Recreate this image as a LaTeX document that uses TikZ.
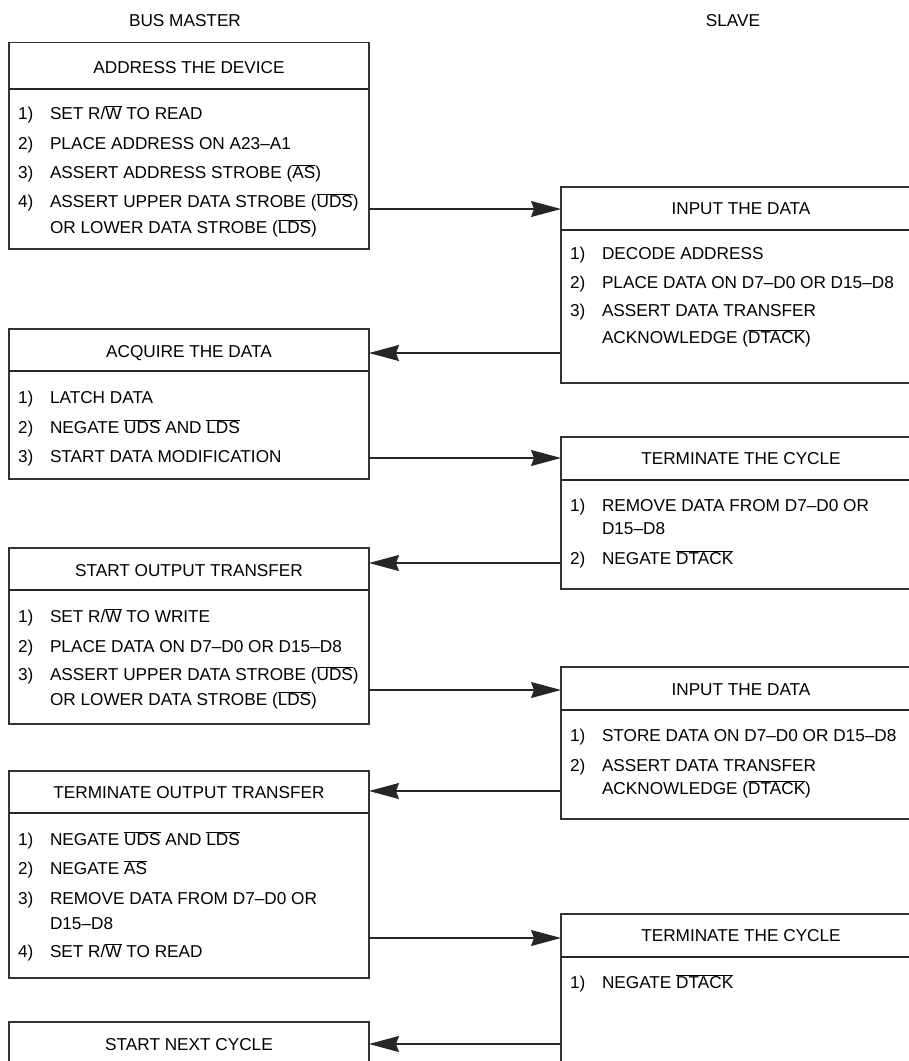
\documentclass[tikz,border=0pt]{standalone}
\usepackage{fontspec}
\setmainfont{Liberation Sans}
\usetikzlibrary{arrows.meta}
% active-low signal name with a bar over it
\newcommand\ovl[1]{$\overline{\mbox{#1}}$}

\begin{document}
\begin{tikzpicture}[x=1pt,y=-1pt,
  every node/.style={font=\fontsize{17.2}{20}\selectfont, text=black,
    inner sep=0pt, outer sep=0pt, text height=12.4pt, text depth=0pt},
  boxsty/.style={draw=black!80, line width=1.1pt, minimum width=360pt},
  divsty/.style={draw=black!85, line width=1.8pt},
  hdr/.style={anchor=center},
  itm/.style={anchor=west},
  arr/.style={draw=black!85, line width=1.1pt,
    -{Stealth[length=30pt,width=16pt,inset=3pt]}}]

\useasboundingbox (0,0) rectangle (909,1061);
\clip (0,0) rectangle (909,1061);
\fill[white] (0,0) rectangle (909,1061);

% column titles
\node[hdr] (colm) at (185,20) {BUS MASTER};
\node[hdr] (cols) at (733,20) {SLAVE};

% ---------- bus master: address the device
\node[boxsty, minimum height=206.5pt] (L1) at (189,145.75) {};
\draw[divsty] (L1.west |- 0,89) -- (L1.east |- 0,89);
\node[hdr] (L1h) at (189,67.5) {ADDRESS THE DEVICE};
\node[itm] (L1n1) at (18,113) {1)};
\node[itm] (L1t1) at (50,113) {SET R/\ovl{W} TO READ};
\node[itm] (L1n2) at (18,143) {2)};
\node[itm] (L1t2) at (50,143) {PLACE ADDRESS ON A23–A1};
\node[itm] (L1n3) at (18,172) {3)};
\node[itm] (L1t3) at (50,172) {ASSERT ADDRESS STROBE (\ovl{AS})};
\node[itm] (L1n4) at (18,201) {4)};
\node[itm] (L1t4) at (50,201) {ASSERT UPPER DATA STROBE (\ovl{UDS})};
\node[itm] (L1t5) at (50,227) {OR LOWER DATA STROBE (\ovl{LDS})};

% ---------- slave: input the data
\node[boxsty, minimum height=196pt] (R1) at (741,285) {};
\draw[divsty] (R1.west |- 0,230) -- (R1.east |- 0,230);
\node[hdr] (R1h) at (741,208) {INPUT THE DATA};
\node[itm] (R1n1) at (570,253) {1)};
\node[itm] (R1t1) at (602,253) {DECODE ADDRESS};
\node[itm] (R1n2) at (570,282) {2)};
\node[itm] (R1t2) at (602,282) {PLACE DATA ON D7–D0 OR D15–D8};
\node[itm] (R1n3) at (570,310) {3)};
\node[itm] (R1t3) at (602,310) {ASSERT DATA TRANSFER};
\node[itm] (R1t4) at (602,337) {ACKNOWLEDGE (\ovl{DTACK})};

% ---------- bus master: acquire the data
\node[boxsty, minimum height=150pt] (L2) at (189,404) {};
\draw[divsty] (L2.west |- 0,371) -- (L2.east |- 0,371);
\node[hdr] (L2h) at (189,351) {ACQUIRE THE DATA};
\node[itm] (L2n1) at (18,397) {1)};
\node[itm] (L2t1) at (50,397) {LATCH DATA};
\node[itm] (L2n2) at (18,427) {2)};
\node[itm] (L2t2) at (50,427) {NEGATE \ovl{UDS} AND \ovl{LDS}};
\node[itm] (L2n3) at (18,456) {3)};
\node[itm] (L2t3) at (50,456) {START DATA MODIFICATION};

% ---------- slave: terminate the cycle
\node[boxsty, minimum height=152pt] (R2) at (741,513) {};
\draw[divsty] (R2.west |- 0,480) -- (R2.east |- 0,480);
\node[hdr] (R2h) at (741,458) {TERMINATE THE CYCLE};
\node[itm] (R2n1) at (570,505) {1)};
\node[itm] (R2t1) at (602,505) {REMOVE DATA FROM D7–D0 OR};
\node[itm] (R2t2) at (602,528) {D15–D8};
\node[itm] (R2n3) at (570,558) {2)};
\node[itm] (R2t3) at (602,558) {NEGATE \ovl{DTACK}};

% ---------- bus master: start output transfer
\node[boxsty, minimum height=176pt] (L3) at (189,636) {};
\draw[divsty] (L3.west |- 0,590) -- (L3.east |- 0,590);
\node[hdr] (L3h) at (189,570) {START OUTPUT TRANSFER};
\node[itm] (L3n1) at (18,616) {1)};
\node[itm] (L3t1) at (50,616) {SET R/\ovl{W} TO WRITE};
\node[itm] (L3n2) at (18,646) {2)};
\node[itm] (L3t2) at (50,646) {PLACE DATA ON D7–D0 OR D15–D8};
\node[itm] (L3n3) at (18,674) {3)};
\node[itm] (L3t3) at (50,674) {ASSERT UPPER DATA STROBE (\ovl{UDS})};
\node[itm] (L3t4) at (50,699) {OR LOWER DATA STROBE (\ovl{LDS})};

% ---------- slave: input the data
\node[boxsty, minimum height=152pt] (R3) at (741,743) {};
\draw[divsty] (R3.west |- 0,710) -- (R3.east |- 0,710);
\node[hdr] (R3h) at (741,689) {INPUT THE DATA};
\node[itm] (R3n1) at (570,735) {1)};
\node[itm] (R3t1) at (602,735) {STORE DATA ON D7–D0 OR D15–D8};
\node[itm] (R3n2) at (570,765) {2)};
\node[itm] (R3t2) at (602,765) {ASSERT DATA TRANSFER};
\node[itm] (R3t3) at (602,788) {ACKNOWLEDGE (\ovl{DTACK})};

% ---------- bus master: terminate output transfer
\node[boxsty, minimum height=207pt] (L4) at (189,874.5) {};
\draw[divsty] (L4.west |- 0,813) -- (L4.east |- 0,813);
\node[hdr] (L4h) at (189,792) {TERMINATE OUTPUT TRANSFER};
\node[itm] (L4n1) at (18,839) {1)};
\node[itm] (L4t1) at (50,839) {NEGATE \ovl{UDS} AND \ovl{LDS}};
\node[itm] (L4n2) at (18,868) {2)};
\node[itm] (L4t2) at (50,868) {NEGATE \ovl{AS}};
\node[itm] (L4n3) at (18,898) {3)};
\node[itm] (L4t3) at (50,898) {REMOVE DATA FROM D7–D0 OR};
\node[itm] (L4t4) at (50,923) {D15–D8};
\node[itm] (L4n5) at (18,951) {4)};
\node[itm] (L4t5) at (50,951) {SET R/\ovl{W} TO READ};

% ---------- slave: terminate the cycle
\node[boxsty, minimum height=186pt] (R4) at (741,1007) {};
\draw[divsty] (R4.west |- 0,957) -- (R4.east |- 0,957);
\node[hdr] (R4h) at (741,935) {TERMINATE THE CYCLE};
\node[itm] (R4n1) at (570,982) {1)};
\node[itm] (R4t1) at (602,982) {NEGATE \ovl{DTACK}};

% ---------- bus master: start next cycle
\node[boxsty, minimum height=78pt] (L5) at (189,1061) {};
\node[hdr] (L5h) at (189,1044) {START NEXT CYCLE};

% ---------- hand-shake arrows
\draw[arr] (L1.east |- 0,209) -- (R1.west |- 0,209);
\draw[arr] (R1.west |- 0,353) -- (L2.east |- 0,353);
\draw[arr] (L2.east |- 0,458) -- (R2.west |- 0,458);
\draw[arr] (R2.west |- 0,563) -- (L3.east |- 0,563);
\draw[arr] (L3.east |- 0,690) -- (R3.west |- 0,690);
\draw[arr] (R3.west |- 0,791) -- (L4.east |- 0,791);
\draw[arr] (L4.east |- 0,938) -- (R4.west |- 0,938);
\draw[arr] (R4.west |- 0,1044) -- (L5.east |- 0,1044);

\end{tikzpicture}
\end{document}
